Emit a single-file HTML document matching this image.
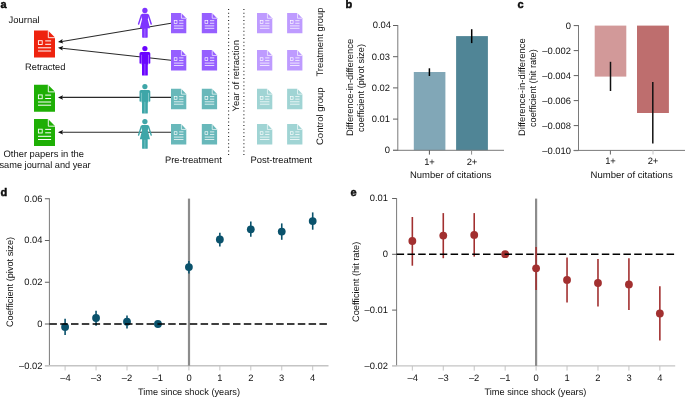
<!DOCTYPE html>
<html><head><meta charset="utf-8"><style>
html,body{margin:0;padding:0;background:#fff;}
svg{display:block;will-change:transform;}
text{font-family:"Liberation Sans",sans-serif;text-rendering:geometricPrecision;}
</style></head><body>
<svg width="685" height="397" viewBox="0 0 685 397" font-family="Liberation Sans, sans-serif" fill="#111">
<g transform="translate(34.00 30.60) scale(1.0000 1.0000)">
<path d="M0 0H14L21 7V27H0Z" fill="#ee230e"/>
<path d="M14.3 0V7.1H21" fill="none" stroke="#fff" stroke-width="0.9"/>
<rect x="4.4" y="10.1" width="3.8" height="3.8" fill="none" stroke="#fff" stroke-width="0.9"/>
<path d="M11.2 10.3H17.1M11.2 13.7H17.1M4 17.2H17.1M4 20.4H17.1" stroke="#fff" stroke-width="1.0"/>
</g>
<g transform="translate(34.00 84.80) scale(1.0000 1.0000)">
<path d="M0 0H14L21 7V27H0Z" fill="#1eaf05"/>
<path d="M14.3 0V7.1H21" fill="none" stroke="#fff" stroke-width="0.9"/>
<rect x="4.4" y="10.1" width="3.8" height="3.8" fill="none" stroke="#fff" stroke-width="0.9"/>
<path d="M11.2 10.3H17.1M11.2 13.7H17.1M4 17.2H17.1M4 20.4H17.1" stroke="#fff" stroke-width="1.0"/>
</g>
<g transform="translate(34.00 119.10) scale(1.0000 1.0000)">
<path d="M0 0H14L21 7V27H0Z" fill="#1eaf05"/>
<path d="M14.3 0V7.1H21" fill="none" stroke="#fff" stroke-width="0.9"/>
<rect x="4.4" y="10.1" width="3.8" height="3.8" fill="none" stroke="#fff" stroke-width="0.9"/>
<path d="M11.2 10.3H17.1M11.2 13.7H17.1M4 17.2H17.1M4 20.4H17.1" stroke="#fff" stroke-width="1.0"/>
</g>
<line x1="62.04" y1="41.43" x2="171.00" y2="23.30" stroke="#2a2a2a" stroke-width="1.1" />
<path d="M58.00 42.10L62.56 39.06L62.04 41.43L63.30 43.50Z" fill="#111"/>
<line x1="62.08" y1="48.25" x2="171.00" y2="60.30" stroke="#2a2a2a" stroke-width="1.1" />
<path d="M58.00 47.80L63.22 46.11L62.08 48.25L62.72 50.59Z" fill="#111"/>
<line x1="62.10" y1="97.40" x2="171.00" y2="97.40" stroke="#2a2a2a" stroke-width="1.1" />
<path d="M58.00 97.40L63.00 95.15L62.10 97.40L63.00 99.65Z" fill="#111"/>
<line x1="62.10" y1="132.20" x2="171.00" y2="132.20" stroke="#2a2a2a" stroke-width="1.1" />
<path d="M58.00 132.20L63.00 129.95L62.10 132.20L63.00 134.45Z" fill="#111"/>
<g fill="#7e34ff">
<circle cx="144.90" cy="10.50" r="2.65"/>
<path d="M142.30 13.80L147.50 13.80L148.20 14.50L148.50 16.50L147.80 19.50L150.00 28.20L139.80 28.20L142.00 19.50L141.30 16.50L141.60 14.50Z"/>
</g>
<line x1="141.40" y1="15.10" x2="138.60" y2="24.00" stroke="#7e34ff" stroke-width="1.45" stroke-linecap="round"/>
<line x1="148.40" y1="15.10" x2="151.20" y2="24.00" stroke="#7e34ff" stroke-width="1.45" stroke-linecap="round"/>
<path d="M142.10 27.50H147.70V37.10Q147.70 37.70 147.10 37.70H142.70Q142.10 37.70 142.10 37.10Z" fill="#7e34ff"/>
<line x1="144.90" y1="28.70" x2="144.90" y2="37.80" stroke="#ffffff" stroke-width="0.45" opacity="0.7"/>
<g fill="#6a04ff">
<circle cx="144.90" cy="48.60" r="2.6"/>
<path d="M139.50 63.00V53.50Q139.50 51.90 141.10 51.90H148.70Q150.30 51.90 150.30 53.50V63.00Q150.30 63.80 149.50 63.80Q148.70 63.80 148.70 63.00V63.60H141.10V63.00Q141.10 63.80 140.30 63.80Q139.50 63.80 139.50 63.00Z"/>
<rect x="141.50" y="52.90" width="6.8" height="11.50"/>
<path d="M142.00 62.60H147.80V74.90Q147.80 75.50 147.20 75.50H142.60Q142.00 75.50 142.00 74.90Z"/>
</g>
<line x1="141.30" y1="54.80" x2="141.30" y2="63.90" stroke="#ffffff" stroke-width="0.45" opacity="0.85"/>
<line x1="148.50" y1="54.80" x2="148.50" y2="63.90" stroke="#ffffff" stroke-width="0.45" opacity="0.85"/>
<line x1="144.90" y1="63.80" x2="144.90" y2="75.60" stroke="#ffffff" stroke-width="0.45" opacity="0.7"/>
<g fill="#3ea6a8">
<circle cx="144.90" cy="86.60" r="2.6"/>
<path d="M139.50 101.00V91.50Q139.50 89.90 141.10 89.90H148.70Q150.30 89.90 150.30 91.50V101.00Q150.30 101.80 149.50 101.80Q148.70 101.80 148.70 101.00V101.60H141.10V101.00Q141.10 101.80 140.30 101.80Q139.50 101.80 139.50 101.00Z"/>
<rect x="141.50" y="90.90" width="6.8" height="11.50"/>
<path d="M142.00 100.60H147.80V112.90Q147.80 113.50 147.20 113.50H142.60Q142.00 113.50 142.00 112.90Z"/>
</g>
<line x1="141.30" y1="92.80" x2="141.30" y2="101.90" stroke="#ffffff" stroke-width="0.45" opacity="0.85"/>
<line x1="148.50" y1="92.80" x2="148.50" y2="101.90" stroke="#ffffff" stroke-width="0.45" opacity="0.85"/>
<line x1="144.90" y1="101.80" x2="144.90" y2="113.60" stroke="#ffffff" stroke-width="0.45" opacity="0.7"/>
<g fill="#3ea6a8">
<circle cx="144.90" cy="121.60" r="2.65"/>
<path d="M142.30 124.90L147.50 124.90L148.20 125.60L148.50 127.60L147.80 130.60L150.00 139.30L139.80 139.30L142.00 130.60L141.30 127.60L141.60 125.60Z"/>
</g>
<line x1="141.40" y1="126.20" x2="138.60" y2="135.10" stroke="#3ea6a8" stroke-width="1.45" stroke-linecap="round"/>
<line x1="148.40" y1="126.20" x2="151.20" y2="135.10" stroke="#3ea6a8" stroke-width="1.45" stroke-linecap="round"/>
<path d="M142.10 138.60H147.70V148.20Q147.70 148.80 147.10 148.80H142.70Q142.10 148.80 142.10 148.20Z" fill="#3ea6a8"/>
<line x1="144.90" y1="139.80" x2="144.90" y2="148.90" stroke="#ffffff" stroke-width="0.45" opacity="0.7"/>
<g transform="translate(171.00 12.90) scale(0.7286 0.7556)">
<path d="M0 0H14L21 7V27H0Z" fill="#965fff"/>
<path d="M14.3 0V7.1H21" fill="none" stroke="#fff" stroke-width="0.9"/>
<rect x="4.4" y="10.1" width="3.8" height="3.8" fill="none" stroke="#fff" stroke-width="0.9"/>
<path d="M11.2 10.3H17.1M11.2 13.7H17.1M4 17.2H17.1M4 20.4H17.1" stroke="#fff" stroke-width="1.0"/>
</g>
<g transform="translate(201.80 12.90) scale(0.7286 0.7556)">
<path d="M0 0H14L21 7V27H0Z" fill="#965fff"/>
<path d="M14.3 0V7.1H21" fill="none" stroke="#fff" stroke-width="0.9"/>
<rect x="4.4" y="10.1" width="3.8" height="3.8" fill="none" stroke="#fff" stroke-width="0.9"/>
<path d="M11.2 10.3H17.1M11.2 13.7H17.1M4 17.2H17.1M4 20.4H17.1" stroke="#fff" stroke-width="1.0"/>
</g>
<g transform="translate(257.00 12.90) scale(0.7286 0.7556)">
<path d="M0 0H14L21 7V27H0Z" fill="#be9bff"/>
<path d="M14.3 0V7.1H21" fill="none" stroke="#fff" stroke-width="0.9"/>
<rect x="4.4" y="10.1" width="3.8" height="3.8" fill="none" stroke="#fff" stroke-width="0.9"/>
<path d="M11.2 10.3H17.1M11.2 13.7H17.1M4 17.2H17.1M4 20.4H17.1" stroke="#fff" stroke-width="1.0"/>
</g>
<g transform="translate(287.10 12.90) scale(0.7286 0.7556)">
<path d="M0 0H14L21 7V27H0Z" fill="#be9bff"/>
<path d="M14.3 0V7.1H21" fill="none" stroke="#fff" stroke-width="0.9"/>
<rect x="4.4" y="10.1" width="3.8" height="3.8" fill="none" stroke="#fff" stroke-width="0.9"/>
<path d="M11.2 10.3H17.1M11.2 13.7H17.1M4 17.2H17.1M4 20.4H17.1" stroke="#fff" stroke-width="1.0"/>
</g>
<g transform="translate(171.00 50.10) scale(0.7286 0.7556)">
<path d="M0 0H14L21 7V27H0Z" fill="#965fff"/>
<path d="M14.3 0V7.1H21" fill="none" stroke="#fff" stroke-width="0.9"/>
<rect x="4.4" y="10.1" width="3.8" height="3.8" fill="none" stroke="#fff" stroke-width="0.9"/>
<path d="M11.2 10.3H17.1M11.2 13.7H17.1M4 17.2H17.1M4 20.4H17.1" stroke="#fff" stroke-width="1.0"/>
</g>
<g transform="translate(201.80 50.10) scale(0.7286 0.7556)">
<path d="M0 0H14L21 7V27H0Z" fill="#965fff"/>
<path d="M14.3 0V7.1H21" fill="none" stroke="#fff" stroke-width="0.9"/>
<rect x="4.4" y="10.1" width="3.8" height="3.8" fill="none" stroke="#fff" stroke-width="0.9"/>
<path d="M11.2 10.3H17.1M11.2 13.7H17.1M4 17.2H17.1M4 20.4H17.1" stroke="#fff" stroke-width="1.0"/>
</g>
<g transform="translate(257.00 50.10) scale(0.7286 0.7556)">
<path d="M0 0H14L21 7V27H0Z" fill="#be9bff"/>
<path d="M14.3 0V7.1H21" fill="none" stroke="#fff" stroke-width="0.9"/>
<rect x="4.4" y="10.1" width="3.8" height="3.8" fill="none" stroke="#fff" stroke-width="0.9"/>
<path d="M11.2 10.3H17.1M11.2 13.7H17.1M4 17.2H17.1M4 20.4H17.1" stroke="#fff" stroke-width="1.0"/>
</g>
<g transform="translate(287.10 50.10) scale(0.7286 0.7556)">
<path d="M0 0H14L21 7V27H0Z" fill="#be9bff"/>
<path d="M14.3 0V7.1H21" fill="none" stroke="#fff" stroke-width="0.9"/>
<rect x="4.4" y="10.1" width="3.8" height="3.8" fill="none" stroke="#fff" stroke-width="0.9"/>
<path d="M11.2 10.3H17.1M11.2 13.7H17.1M4 17.2H17.1M4 20.4H17.1" stroke="#fff" stroke-width="1.0"/>
</g>
<g transform="translate(171.00 88.80) scale(0.7286 0.7556)">
<path d="M0 0H14L21 7V27H0Z" fill="#68b8ba"/>
<path d="M14.3 0V7.1H21" fill="none" stroke="#fff" stroke-width="0.9"/>
<rect x="4.4" y="10.1" width="3.8" height="3.8" fill="none" stroke="#fff" stroke-width="0.9"/>
<path d="M11.2 10.3H17.1M11.2 13.7H17.1M4 17.2H17.1M4 20.4H17.1" stroke="#fff" stroke-width="1.0"/>
</g>
<g transform="translate(201.80 88.80) scale(0.7286 0.7556)">
<path d="M0 0H14L21 7V27H0Z" fill="#68b8ba"/>
<path d="M14.3 0V7.1H21" fill="none" stroke="#fff" stroke-width="0.9"/>
<rect x="4.4" y="10.1" width="3.8" height="3.8" fill="none" stroke="#fff" stroke-width="0.9"/>
<path d="M11.2 10.3H17.1M11.2 13.7H17.1M4 17.2H17.1M4 20.4H17.1" stroke="#fff" stroke-width="1.0"/>
</g>
<g transform="translate(257.00 88.80) scale(0.7286 0.7556)">
<path d="M0 0H14L21 7V27H0Z" fill="#a0d4d4"/>
<path d="M14.3 0V7.1H21" fill="none" stroke="#fff" stroke-width="0.9"/>
<rect x="4.4" y="10.1" width="3.8" height="3.8" fill="none" stroke="#fff" stroke-width="0.9"/>
<path d="M11.2 10.3H17.1M11.2 13.7H17.1M4 17.2H17.1M4 20.4H17.1" stroke="#fff" stroke-width="1.0"/>
</g>
<g transform="translate(287.10 88.80) scale(0.7286 0.7556)">
<path d="M0 0H14L21 7V27H0Z" fill="#a0d4d4"/>
<path d="M14.3 0V7.1H21" fill="none" stroke="#fff" stroke-width="0.9"/>
<rect x="4.4" y="10.1" width="3.8" height="3.8" fill="none" stroke="#fff" stroke-width="0.9"/>
<path d="M11.2 10.3H17.1M11.2 13.7H17.1M4 17.2H17.1M4 20.4H17.1" stroke="#fff" stroke-width="1.0"/>
</g>
<g transform="translate(171.00 124.10) scale(0.7286 0.7556)">
<path d="M0 0H14L21 7V27H0Z" fill="#68b8ba"/>
<path d="M14.3 0V7.1H21" fill="none" stroke="#fff" stroke-width="0.9"/>
<rect x="4.4" y="10.1" width="3.8" height="3.8" fill="none" stroke="#fff" stroke-width="0.9"/>
<path d="M11.2 10.3H17.1M11.2 13.7H17.1M4 17.2H17.1M4 20.4H17.1" stroke="#fff" stroke-width="1.0"/>
</g>
<g transform="translate(201.80 124.10) scale(0.7286 0.7556)">
<path d="M0 0H14L21 7V27H0Z" fill="#68b8ba"/>
<path d="M14.3 0V7.1H21" fill="none" stroke="#fff" stroke-width="0.9"/>
<rect x="4.4" y="10.1" width="3.8" height="3.8" fill="none" stroke="#fff" stroke-width="0.9"/>
<path d="M11.2 10.3H17.1M11.2 13.7H17.1M4 17.2H17.1M4 20.4H17.1" stroke="#fff" stroke-width="1.0"/>
</g>
<g transform="translate(257.00 124.10) scale(0.7286 0.7556)">
<path d="M0 0H14L21 7V27H0Z" fill="#a0d4d4"/>
<path d="M14.3 0V7.1H21" fill="none" stroke="#fff" stroke-width="0.9"/>
<rect x="4.4" y="10.1" width="3.8" height="3.8" fill="none" stroke="#fff" stroke-width="0.9"/>
<path d="M11.2 10.3H17.1M11.2 13.7H17.1M4 17.2H17.1M4 20.4H17.1" stroke="#fff" stroke-width="1.0"/>
</g>
<g transform="translate(287.10 124.10) scale(0.7286 0.7556)">
<path d="M0 0H14L21 7V27H0Z" fill="#a0d4d4"/>
<path d="M14.3 0V7.1H21" fill="none" stroke="#fff" stroke-width="0.9"/>
<rect x="4.4" y="10.1" width="3.8" height="3.8" fill="none" stroke="#fff" stroke-width="0.9"/>
<path d="M11.2 10.3H17.1M11.2 13.7H17.1M4 17.2H17.1M4 20.4H17.1" stroke="#fff" stroke-width="1.0"/>
</g>
<line x1="228.60" y1="9.10" x2="228.60" y2="155.20" stroke="#222" stroke-width="1.1" stroke-dasharray="1 2.625"/>
<line x1="243.90" y1="9.10" x2="243.90" y2="155.20" stroke="#222" stroke-width="1.1" stroke-dasharray="1 2.625"/>
<line x1="397.80" y1="25.00" x2="397.80" y2="150.80" stroke="#7a7a7a" stroke-width="1" />
<line x1="393.00" y1="150.30" x2="397.80" y2="150.30" stroke="#606060" stroke-width="1" />
<line x1="393.00" y1="119.10" x2="397.80" y2="119.10" stroke="#606060" stroke-width="1" />
<line x1="393.00" y1="87.90" x2="397.80" y2="87.90" stroke="#606060" stroke-width="1" />
<line x1="393.00" y1="56.70" x2="397.80" y2="56.70" stroke="#606060" stroke-width="1" />
<line x1="393.00" y1="25.50" x2="397.80" y2="25.50" stroke="#606060" stroke-width="1" />
<rect x="413.8" y="72.0" width="31.6" height="78.30" fill="#81a7b7"/>
<rect x="456.1" y="36.1" width="31.8" height="114.20" fill="#508596"/>
<line x1="393.00" y1="150.30" x2="504.00" y2="150.30" stroke="#7a7a7a" stroke-width="1" />
<line x1="429.40" y1="150.30" x2="429.40" y2="154.60" stroke="#555" stroke-width="1" />
<line x1="471.60" y1="150.30" x2="471.60" y2="154.60" stroke="#8a8a8a" stroke-width="1" />
<line x1="429.40" y1="68.30" x2="429.40" y2="76.00" stroke="#000" stroke-width="1.5" />
<line x1="471.70" y1="29.20" x2="471.70" y2="43.10" stroke="#000" stroke-width="1.5" />
<line x1="578.50" y1="25.10" x2="578.50" y2="150.80" stroke="#7a7a7a" stroke-width="1" />
<line x1="573.70" y1="25.60" x2="578.50" y2="25.60" stroke="#606060" stroke-width="1" />
<line x1="573.70" y1="50.60" x2="578.50" y2="50.60" stroke="#606060" stroke-width="1" />
<line x1="573.70" y1="75.60" x2="578.50" y2="75.60" stroke="#606060" stroke-width="1" />
<line x1="573.70" y1="100.60" x2="578.50" y2="100.60" stroke="#606060" stroke-width="1" />
<line x1="573.70" y1="125.60" x2="578.50" y2="125.60" stroke="#606060" stroke-width="1" />
<line x1="573.70" y1="150.60" x2="578.50" y2="150.60" stroke="#606060" stroke-width="1" />
<rect x="594.7" y="25.60" width="31.6" height="51.00" fill="#d29999"/>
<rect x="637.0" y="25.60" width="31.9" height="87.40" fill="#be6e6e"/>
<line x1="573.70" y1="150.40" x2="685.00" y2="150.40" stroke="#7a7a7a" stroke-width="1" />
<line x1="610.40" y1="150.40" x2="610.40" y2="154.50" stroke="#666" stroke-width="1" />
<line x1="653.00" y1="150.40" x2="653.00" y2="154.50" stroke="#c4c4c4" stroke-width="1" />
<line x1="610.50" y1="61.80" x2="610.50" y2="91.00" stroke="#111" stroke-width="1.5" />
<line x1="652.80" y1="81.90" x2="652.80" y2="143.60" stroke="#111" stroke-width="1.5" />
<line x1="49.40" y1="198.30" x2="49.40" y2="365.75" stroke="#7a7a7a" stroke-width="1" />
<line x1="44.90" y1="365.75" x2="49.40" y2="365.75" stroke="#c4c4c4" stroke-width="1" />
<line x1="44.90" y1="324.00" x2="49.40" y2="324.00" stroke="#606060" stroke-width="1" />
<line x1="44.90" y1="282.25" x2="49.40" y2="282.25" stroke="#606060" stroke-width="1" />
<line x1="44.90" y1="240.50" x2="49.40" y2="240.50" stroke="#606060" stroke-width="1" />
<line x1="44.90" y1="198.75" x2="49.40" y2="198.75" stroke="#606060" stroke-width="1" />
<line x1="44.90" y1="365.75" x2="328.50" y2="365.75" stroke="#c4c4c4" stroke-width="1.3" />
<line x1="65.10" y1="365.75" x2="65.10" y2="370.45" stroke="#c4c4c4" stroke-width="1" />
<line x1="96.05" y1="365.75" x2="96.05" y2="370.45" stroke="#c4c4c4" stroke-width="1" />
<line x1="127.00" y1="365.75" x2="127.00" y2="370.45" stroke="#c4c4c4" stroke-width="1" />
<line x1="157.95" y1="365.75" x2="157.95" y2="370.45" stroke="#c4c4c4" stroke-width="1" />
<line x1="188.90" y1="365.75" x2="188.90" y2="370.45" stroke="#c4c4c4" stroke-width="1" />
<line x1="219.85" y1="365.75" x2="219.85" y2="370.45" stroke="#c4c4c4" stroke-width="1" />
<line x1="250.80" y1="365.75" x2="250.80" y2="370.45" stroke="#c4c4c4" stroke-width="1" />
<line x1="281.75" y1="365.75" x2="281.75" y2="370.45" stroke="#c4c4c4" stroke-width="1" />
<line x1="312.70" y1="365.75" x2="312.70" y2="370.45" stroke="#c4c4c4" stroke-width="1" />
<line x1="189.00" y1="198.60" x2="189.00" y2="365.75" stroke="#8c8c8c" stroke-width="2.2" />
<line x1="65.10" y1="318.80" x2="65.10" y2="335.00" stroke="#0a526c" stroke-width="1.6" />
<circle cx="65.10" cy="326.90" r="3.9" fill="#0a526c"/>
<line x1="96.05" y1="310.80" x2="96.05" y2="325.70" stroke="#0a526c" stroke-width="1.6" />
<circle cx="96.05" cy="318.00" r="3.9" fill="#0a526c"/>
<line x1="127.00" y1="315.50" x2="127.00" y2="328.50" stroke="#0a526c" stroke-width="1.6" />
<circle cx="127.00" cy="321.70" r="3.9" fill="#0a526c"/>
<line x1="157.95" y1="323.00" x2="157.95" y2="325.00" stroke="#0a526c" stroke-width="1.6" />
<circle cx="157.95" cy="324.00" r="3.9" fill="#0a526c"/>
<line x1="188.90" y1="261.00" x2="188.90" y2="273.40" stroke="#0a526c" stroke-width="1.6" />
<circle cx="188.90" cy="267.10" r="3.9" fill="#0a526c"/>
<line x1="219.85" y1="232.80" x2="219.85" y2="246.50" stroke="#0a526c" stroke-width="1.6" />
<circle cx="219.85" cy="239.50" r="3.9" fill="#0a526c"/>
<line x1="250.80" y1="221.50" x2="250.80" y2="236.70" stroke="#0a526c" stroke-width="1.6" />
<circle cx="250.80" cy="229.30" r="3.9" fill="#0a526c"/>
<line x1="281.75" y1="223.40" x2="281.75" y2="239.80" stroke="#0a526c" stroke-width="1.6" />
<circle cx="281.75" cy="231.60" r="3.9" fill="#0a526c"/>
<line x1="312.70" y1="212.40" x2="312.70" y2="229.70" stroke="#0a526c" stroke-width="1.6" />
<circle cx="312.70" cy="221.10" r="3.9" fill="#0a526c"/>
<line x1="49.40" y1="324.00" x2="327.20" y2="324.00" stroke="#000" stroke-width="1.5" stroke-dasharray="7.5 3.3"/>
<line x1="396.60" y1="198.20" x2="396.60" y2="366.00" stroke="#7a7a7a" stroke-width="1" />
<line x1="392.10" y1="198.50" x2="396.60" y2="198.50" stroke="#606060" stroke-width="1" />
<line x1="392.10" y1="254.30" x2="396.60" y2="254.30" stroke="#606060" stroke-width="1" />
<line x1="392.10" y1="310.10" x2="396.60" y2="310.10" stroke="#606060" stroke-width="1" />
<line x1="392.10" y1="365.90" x2="396.60" y2="365.90" stroke="#c4c4c4" stroke-width="1" />
<line x1="392.10" y1="365.90" x2="675.20" y2="365.90" stroke="#c4c4c4" stroke-width="1.3" />
<line x1="412.34" y1="365.90" x2="412.34" y2="370.60" stroke="#c4c4c4" stroke-width="1" />
<line x1="443.28" y1="365.90" x2="443.28" y2="370.60" stroke="#c4c4c4" stroke-width="1" />
<line x1="474.22" y1="365.90" x2="474.22" y2="370.60" stroke="#c4c4c4" stroke-width="1" />
<line x1="505.16" y1="365.90" x2="505.16" y2="370.60" stroke="#c4c4c4" stroke-width="1" />
<line x1="536.10" y1="365.90" x2="536.10" y2="370.60" stroke="#c4c4c4" stroke-width="1" />
<line x1="567.04" y1="365.90" x2="567.04" y2="370.60" stroke="#c4c4c4" stroke-width="1" />
<line x1="597.98" y1="365.90" x2="597.98" y2="370.60" stroke="#c4c4c4" stroke-width="1" />
<line x1="628.92" y1="365.90" x2="628.92" y2="370.60" stroke="#c4c4c4" stroke-width="1" />
<line x1="659.86" y1="365.90" x2="659.86" y2="370.60" stroke="#c4c4c4" stroke-width="1" />
<line x1="536.10" y1="198.60" x2="536.10" y2="365.90" stroke="#8c8c8c" stroke-width="2.2" />
<line x1="412.34" y1="217.00" x2="412.34" y2="265.70" stroke="#a23030" stroke-width="1.6" />
<circle cx="412.34" cy="241.00" r="3.9" fill="#a23030"/>
<line x1="443.28" y1="213.10" x2="443.28" y2="258.20" stroke="#a23030" stroke-width="1.6" />
<circle cx="443.28" cy="235.60" r="3.9" fill="#a23030"/>
<line x1="474.22" y1="213.10" x2="474.22" y2="256.60" stroke="#a23030" stroke-width="1.6" />
<circle cx="474.22" cy="234.90" r="3.9" fill="#a23030"/>
<line x1="505.16" y1="253.40" x2="505.16" y2="255.40" stroke="#a23030" stroke-width="1.6" />
<circle cx="505.16" cy="254.20" r="3.9" fill="#a23030"/>
<line x1="536.10" y1="246.90" x2="536.10" y2="289.90" stroke="#a23030" stroke-width="1.6" />
<circle cx="536.10" cy="268.30" r="3.9" fill="#a23030"/>
<line x1="567.04" y1="257.50" x2="567.04" y2="302.40" stroke="#a23030" stroke-width="1.6" />
<circle cx="567.04" cy="279.90" r="3.9" fill="#a23030"/>
<line x1="597.98" y1="258.90" x2="597.98" y2="306.50" stroke="#a23030" stroke-width="1.6" />
<circle cx="597.98" cy="283.00" r="3.9" fill="#a23030"/>
<line x1="628.92" y1="258.30" x2="628.92" y2="309.90" stroke="#a23030" stroke-width="1.6" />
<circle cx="628.92" cy="284.40" r="3.9" fill="#a23030"/>
<line x1="659.86" y1="286.30" x2="659.86" y2="340.60" stroke="#a23030" stroke-width="1.6" />
<circle cx="659.86" cy="313.50" r="3.9" fill="#a23030"/>
<line x1="396.60" y1="254.30" x2="674.60" y2="254.30" stroke="#000" stroke-width="1.5" stroke-dasharray="7.5 3.3"/>
<text x="0.60" y="7.80" font-size="11" font-weight="bold" stroke="#000" stroke-width="0.45">a</text>
<text x="8.50" y="22.60" font-size="9.4" textLength="31.15" lengthAdjust="spacingAndGlyphs">Journal</text>
<text x="25.00" y="70.00" font-size="9.4" textLength="40.46" lengthAdjust="spacingAndGlyphs">Retracted</text>
<text x="3.50" y="156.90" font-size="9.4" textLength="80.47" lengthAdjust="spacingAndGlyphs">Other papers in the</text>
<text x="-0.50" y="167.80" font-size="9.4" textLength="91.17" lengthAdjust="spacingAndGlyphs">same journal and year</text>
<text x="239.40" y="111.50" font-size="9.4" textLength="71.46" lengthAdjust="spacingAndGlyphs" transform="rotate(-90 239.40 111.50)">Year of retraction</text>
<text x="165.00" y="162.70" font-size="9.4" textLength="56.71" lengthAdjust="spacingAndGlyphs">Pre-treatment</text>
<text x="250.50" y="162.70" font-size="9.4" textLength="61.68" lengthAdjust="spacingAndGlyphs">Post-treatment</text>
<text x="322.60" y="76.50" font-size="9.4" textLength="68.97" lengthAdjust="spacingAndGlyphs" transform="rotate(-90 322.60 76.50)">Treatment group</text>
<text x="322.60" y="145.00" font-size="9.4" textLength="57.61" lengthAdjust="spacingAndGlyphs" transform="rotate(-90 322.60 145.00)">Control group</text>
<text x="345.50" y="7.60" font-size="11" font-weight="bold" stroke="#000" stroke-width="0.45">b</text>
<text x="384.78" y="153.25" font-size="9.4" textLength="5.22" lengthAdjust="spacingAndGlyphs">0</text>
<text x="371.75" y="122.05" font-size="9.4" textLength="18.25" lengthAdjust="spacingAndGlyphs">0.01</text>
<text x="371.75" y="90.85" font-size="9.4" textLength="18.25" lengthAdjust="spacingAndGlyphs">0.02</text>
<text x="371.75" y="59.65" font-size="9.4" textLength="18.25" lengthAdjust="spacingAndGlyphs">0.03</text>
<text x="372.75" y="28.45" font-size="9.4" textLength="18.25" lengthAdjust="spacingAndGlyphs">0.04</text>
<text x="424.15" y="164.80" font-size="9.4" textLength="10.70" lengthAdjust="spacingAndGlyphs">1+</text>
<text x="466.65" y="164.80" font-size="9.4" textLength="10.70" lengthAdjust="spacingAndGlyphs">2+</text>
<text x="410.00" y="178.40" font-size="9.4" textLength="81.37" lengthAdjust="spacingAndGlyphs">Number of citations</text>
<text x="352.90" y="136.00" font-size="9.4" textLength="97.11" lengthAdjust="spacingAndGlyphs" transform="rotate(-90 352.90 136.00)">Difference-in-difference</text>
<text x="363.90" y="132.00" font-size="9.4" textLength="87.97" lengthAdjust="spacingAndGlyphs" transform="rotate(-90 363.90 132.00)">coefficient (pivot size)</text>
<text x="517.50" y="7.60" font-size="11" font-weight="bold" stroke="#000" stroke-width="0.45">c</text>
<text x="565.78" y="28.55" font-size="9.4" textLength="5.22" lengthAdjust="spacingAndGlyphs">0</text>
<text x="542.31" y="53.55" font-size="9.4" textLength="28.69" lengthAdjust="spacingAndGlyphs">–0.002</text>
<text x="542.31" y="78.55" font-size="9.4" textLength="28.69" lengthAdjust="spacingAndGlyphs">–0.004</text>
<text x="542.31" y="103.55" font-size="9.4" textLength="28.69" lengthAdjust="spacingAndGlyphs">–0.006</text>
<text x="542.31" y="128.55" font-size="9.4" textLength="28.69" lengthAdjust="spacingAndGlyphs">–0.008</text>
<text x="542.31" y="153.55" font-size="9.4" textLength="28.69" lengthAdjust="spacingAndGlyphs">–0.010</text>
<text x="605.15" y="164.40" font-size="9.4" textLength="10.70" lengthAdjust="spacingAndGlyphs">1+</text>
<text x="647.65" y="164.40" font-size="9.4" textLength="10.70" lengthAdjust="spacingAndGlyphs">2+</text>
<text x="590.50" y="178.30" font-size="9.4" textLength="82.17" lengthAdjust="spacingAndGlyphs">Number of citations</text>
<text x="525.30" y="136.00" font-size="9.4" textLength="97.71" lengthAdjust="spacingAndGlyphs" transform="rotate(-90 525.30 136.00)">Difference-in-difference</text>
<text x="536.40" y="127.00" font-size="9.4" textLength="77.76" lengthAdjust="spacingAndGlyphs" transform="rotate(-90 536.40 127.00)">coefficient (hit rate)</text>
<text x="0.60" y="195.90" font-size="11" font-weight="bold" stroke="#000" stroke-width="0.45">d</text>
<text x="19.03" y="368.70" font-size="9.4" textLength="23.47" lengthAdjust="spacingAndGlyphs">–0.02</text>
<text x="37.28" y="326.95" font-size="9.4" textLength="5.22" lengthAdjust="spacingAndGlyphs">0</text>
<text x="24.25" y="285.20" font-size="9.4" textLength="18.25" lengthAdjust="spacingAndGlyphs">0.02</text>
<text x="24.25" y="243.45" font-size="9.4" textLength="18.25" lengthAdjust="spacingAndGlyphs">0.04</text>
<text x="24.25" y="201.70" font-size="9.4" textLength="18.25" lengthAdjust="spacingAndGlyphs">0.06</text>
<text x="60.28" y="380.80" font-size="9.4" textLength="10.44" lengthAdjust="spacingAndGlyphs">–4</text>
<text x="91.03" y="380.80" font-size="9.4" textLength="10.44" lengthAdjust="spacingAndGlyphs">–3</text>
<text x="121.78" y="380.80" font-size="9.4" textLength="10.44" lengthAdjust="spacingAndGlyphs">–2</text>
<text x="152.53" y="380.80" font-size="9.4" textLength="10.44" lengthAdjust="spacingAndGlyphs">–1</text>
<text x="186.39" y="380.80" font-size="9.4" textLength="5.22" lengthAdjust="spacingAndGlyphs">0</text>
<text x="217.14" y="380.80" font-size="9.4" textLength="5.22" lengthAdjust="spacingAndGlyphs">1</text>
<text x="248.39" y="380.80" font-size="9.4" textLength="5.22" lengthAdjust="spacingAndGlyphs">2</text>
<text x="279.14" y="380.80" font-size="9.4" textLength="5.22" lengthAdjust="spacingAndGlyphs">3</text>
<text x="309.89" y="380.80" font-size="9.4" textLength="5.22" lengthAdjust="spacingAndGlyphs">4</text>
<text x="138.00" y="395.00" font-size="9.4" textLength="102.04" lengthAdjust="spacingAndGlyphs">Time since shock (years)</text>
<text x="13.00" y="327.00" font-size="9.4" textLength="90.06" lengthAdjust="spacingAndGlyphs" transform="rotate(-90 13.00 327.00)">Coefficient (pivot size)</text>
<text x="350.60" y="196.00" font-size="11" font-weight="bold" stroke="#000" stroke-width="0.45">e</text>
<text x="369.75" y="201.45" font-size="9.4" textLength="18.25" lengthAdjust="spacingAndGlyphs">0.01</text>
<text x="382.78" y="257.25" font-size="9.4" textLength="5.22" lengthAdjust="spacingAndGlyphs">0</text>
<text x="364.53" y="313.05" font-size="9.4" textLength="23.47" lengthAdjust="spacingAndGlyphs">–0.01</text>
<text x="364.53" y="368.85" font-size="9.4" textLength="23.47" lengthAdjust="spacingAndGlyphs">–0.02</text>
<text x="407.48" y="380.80" font-size="9.4" textLength="10.44" lengthAdjust="spacingAndGlyphs">–4</text>
<text x="438.18" y="380.80" font-size="9.4" textLength="10.44" lengthAdjust="spacingAndGlyphs">–3</text>
<text x="468.88" y="380.80" font-size="9.4" textLength="10.44" lengthAdjust="spacingAndGlyphs">–2</text>
<text x="500.08" y="380.80" font-size="9.4" textLength="10.44" lengthAdjust="spacingAndGlyphs">–1</text>
<text x="533.39" y="380.80" font-size="9.4" textLength="5.22" lengthAdjust="spacingAndGlyphs">0</text>
<text x="564.59" y="380.80" font-size="9.4" textLength="5.22" lengthAdjust="spacingAndGlyphs">1</text>
<text x="595.29" y="380.80" font-size="9.4" textLength="5.22" lengthAdjust="spacingAndGlyphs">2</text>
<text x="626.49" y="380.80" font-size="9.4" textLength="5.22" lengthAdjust="spacingAndGlyphs">3</text>
<text x="657.19" y="380.80" font-size="9.4" textLength="5.22" lengthAdjust="spacingAndGlyphs">4</text>
<text x="484.50" y="394.80" font-size="9.4" textLength="101.84" lengthAdjust="spacingAndGlyphs">Time since shock (years)</text>
<text x="358.50" y="322.00" font-size="9.4" textLength="80.24" lengthAdjust="spacingAndGlyphs" transform="rotate(-90 358.50 322.00)">Coefficient (hit rate)</text>
</svg>
</body></html>
